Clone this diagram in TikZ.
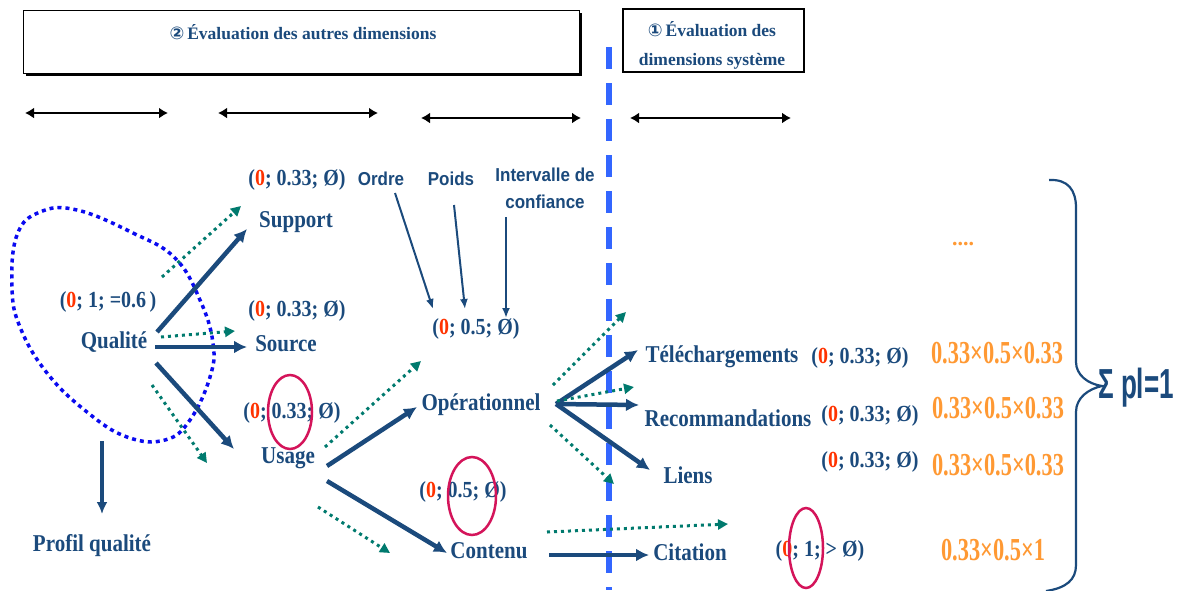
\documentclass[tikz,border=0pt]{standalone}
\usepackage{fontspec}
\setmainfont{Liberation Serif}
\setsansfont{Liberation Sans}
\newfontfamily\dejavu{DejaVu Sans}
\usetikzlibrary{arrows.meta,shapes.geometric}
\definecolor{dblue}{RGB}{27,74,124}
\definecolor{redz}{RGB}{255,51,0}
\definecolor{orng}{RGB}{255,153,51}
\definecolor{tealc}{RGB}{0,122,110}
\definecolor{loopb}{RGB}{10,10,240}
\definecolor{dashb}{RGB}{51,102,255}
\definecolor{magc}{RGB}{212,20,90}
\newcommand\tupl[2]{(\textcolor{redz}{0}; #1; #2)}
\begin{document}
\begin{tikzpicture}[x=1pt,y=-1pt,
  lbl/.style={inner sep=0pt,text=dblue,yscale=1.15,font=\bfseries\fontsize{21}{24}\selectfont},
  tupn/.style={inner sep=0pt,text=dblue,yscale=1.15,font=\bfseries\fontsize{20}{24}\selectfont},
  hdr/.style={inner sep=0pt,text=dblue,font=\bfseries\fontsize{17.5}{20}\selectfont},
  sanl/.style={inner sep=0pt,text=dblue,align=center,yscale=1.1,font=\sffamily\bfseries\fontsize{17}{24}\selectfont},
  orl/.style={inner sep=0pt,text=orng,xscale=0.7,font=\bfseries\fontsize{32}{34}\selectfont},
  darr/.style={draw=dblue,line width=4.5pt,-{Latex[length=13pt,width=13pt]}},
  thinarr/.style={draw=dblue,line width=2pt,-{Latex[length=10pt,width=8pt]}},
  tarr/.style={draw=tealc,line width=3pt,dash pattern=on 3pt off 4pt,-{Triangle[length=10pt,width=10pt]}},
  dbl/.style={draw=black,line width=2.5pt,{Latex[length=9pt,width=11pt]}-{Latex[length=9pt,width=11pt]}},
  ringc/.style={draw=magc,line width=2.5pt,ellipse,inner sep=0pt}
]
\useasboundingbox[fill=white] (0,0) rectangle (1183,590);

% header boxes
\fill[black] (26,13) rectangle (582,76);
\draw[fill=white,line width=1pt] (23,10) rectangle (579,73);
\node[hdr] (t2) at (303,32) {{\dejavu ②}\,Évaluation des autres dimensions};
\draw[fill=white,line width=1.5pt] (623,9) rectangle (804,72);
\node[hdr,align=center,font=\bfseries\fontsize{17.5}{29}\selectfont] (t1) at (712,45) {{\dejavu ①}\,Évaluation des\\dimensions système};

% dashed separator
\draw[dashb,line width=6pt,dash pattern=on 22pt off 14pt] (609,47) -- (609,590);

% double arrows
\coordinate (d1a) at (25,113); \coordinate (d1b) at (168,113);
\coordinate (d2a) at (218,113); \coordinate (d2b) at (378,113);
\coordinate (d3a) at (421,118); \coordinate (d3b) at (581,118);
\coordinate (d4a) at (630,118); \coordinate (d4b) at (791,118);
\draw[dbl] (d1a) -- (d1b);
\draw[dbl] (d2a) -- (d2b);
\draw[dbl] (d3a) -- (d3b);
\draw[dbl] (d4a) -- (d4b);

% dotted loop
\draw[loopb,line width=3.5pt,dash pattern=on 4pt off 4pt]
  plot[smooth cycle,tension=0.7] coordinates {(77,210) (133,233) (175,258) (200,300) (213,343) (210,377) (190,420) (165,440) (127,437) (87,412) (47,373) (20,327) (12,287) (17,235) (40,212)};

% text nodes
\node[tupn] (qt) at (108,302) {\tupl{1}{=0.6\,}};
\node[lbl] (qual) at (114,342) {Qualité};
\node[lbl] (prof) at (92,546) {Profil qualité};
\node[tupn] (supt) at (297,180) {\tupl{0.33}{Ø}};
\node[lbl] (supp) at (296,222) {Support};
\node[tupn] (srct) at (297,311) {\tupl{0.33}{Ø}};
\node[lbl] (src) at (286,344) {Source};
\node[tupn] (usgt) at (292,413) {\tupl{0.33}{Ø}};
\node[lbl] (usg) at (288,458) {Usage};
\node[sanl] (ordre) at (381,179) {Ordre};
\node[sanl] (poids) at (451,179) {Poids};
\node[sanl,anchor=north] (interv) at (545,168) {Intervalle de\\confiance};
\node[tupn] (opt) at (476,329) {\tupl{0.5}{Ø}};
\node[lbl] (oper) at (481,405) {Opérationnel};
\node[tupn] (cont0) at (463,492) {\tupl{0.5}{Ø}};
\node[lbl] (cont) at (489,551) {Contenu};
\node[lbl] (tele) at (722,357) {Téléchargements};
\node[tupn] (telet) at (860,358) {\tupl{0.33}{Ø}};
\node[orl] (teleo) at (997,353) {0.33×0.5×0.33};
\node[lbl] (reco) at (728,418) {Recommandations};
\node[tupn] (recot) at (870,416) {\tupl{0.33}{Ø}};
\node[orl] (recoo) at (998,408) {0.33×0.5×0.33};
\node[lbl] (liens) at (688,475) {Liens};
\node[tupn] (lient) at (870,462) {\tupl{0.33}{Ø}};
\node[orl] (lieno) at (998,465) {0.33×0.5×0.33};
\node[lbl] (cit) at (690,552) {Citation};
\node[tupn] (citt) at (820,551) {\tupl{1}{> Ø}};
\node[orl] (cito) at (993,550) {0.33×0.5×1};
\node[inner sep=0pt,text=orng,font=\bfseries\fontsize{22}{24}\selectfont] (dots) at (963,244) {....};
\node[inner sep=0pt,text=dblue,xscale=0.62,font=\sffamily\bfseries\fontsize{42}{44}\selectfont] (sig) at (1136,388) {Σ pl=1};

% magenta rings
\node[ringc,minimum width=44pt,minimum height=74pt] (r1) at (290,412) {};
\node[ringc,minimum width=48pt,minimum height=78pt] (r2) at (472,496) {};
\node[ringc,minimum width=34pt,minimum height=80pt] (r3) at (806,548) {};

% brace
\draw[dblue,line width=2.2pt] (1049,180) .. controls (1068,179) and (1076,190) .. (1076,208) -- (1076,362)
  .. controls (1076,375) and (1088,384) .. (1102,386)
  .. controls (1088,389) and (1076,398) .. (1076,412) -- (1076,565)
  .. controls (1076,580) and (1066,588) .. (1046,591);

% connector endpoints
\coordinate (qa1) at (157,332); \coordinate (qa2) at (155,347); \coordinate (qa3) at (156,363);
\coordinate (sua) at (247,229); \coordinate (sra) at (247,347); \coordinate (uga) at (234,449);
\coordinate (pa) at (102,441); \coordinate (pb) at (102,514);
\coordinate (ua1) at (327,466); \coordinate (ua2) at (327,481);
\coordinate (opa) at (417,407); \coordinate (coa) at (447,553);
\coordinate (os) at (556,404);
\coordinate (tea) at (638,350); \coordinate (rea) at (639,405); \coordinate (lia) at (650,470);
\coordinate (cs) at (549,555); \coordinate (cia) at (649,555);
\coordinate (ors) at (395,193); \coordinate (ore) at (433,309);
\coordinate (pos) at (454,205); \coordinate (poe) at (465,309);
\coordinate (ins) at (506,217); \coordinate (ine) at (506,318);

\draw[darr] (qa1) -- (sua);
\draw[darr] (qa2) -- (sra);
\draw[darr] (qa3) -- (uga);
\draw[darr,line width=3.5pt,-{Latex[length=12pt,width=11pt]}] (pa) -- (pb);
\draw[darr] (ua1) -- (opa);
\draw[darr] (ua2) -- (coa);
\draw[darr] (os) -- (tea);
\draw[darr] (os) -- (rea);
\draw[darr] (os) -- (lia);
\draw[darr] (cs) -- (cia);
\draw[thinarr] (ors) -- (ore);
\draw[thinarr] (pos) -- (poe);
\draw[thinarr] (ins) -- (ine);

% teal dotted arrows
\coordinate (ta1) at (162,277); \coordinate (tb1) at (241,206);
\coordinate (ta2) at (161,337); \coordinate (tb2) at (235,331);
\coordinate (ta3) at (152,385); \coordinate (tb3) at (207,463);
\coordinate (ta4) at (325,447); \coordinate (tb4) at (421,361);
\coordinate (ta5) at (318,507); \coordinate (tb5) at (390,553);
\coordinate (ta6) at (553,385); \coordinate (tb6) at (626,312);
\coordinate (ta7) at (557,401); \coordinate (tb7) at (634,387);
\coordinate (ta8) at (550,425); \coordinate (tb8) at (614,484);
\coordinate (ta9) at (547,532); \coordinate (tb9) at (728,524);
\foreach \i in {1,...,9} { \draw[tarr] (ta\i) -- (tb\i); }
\end{tikzpicture}
\end{document}
